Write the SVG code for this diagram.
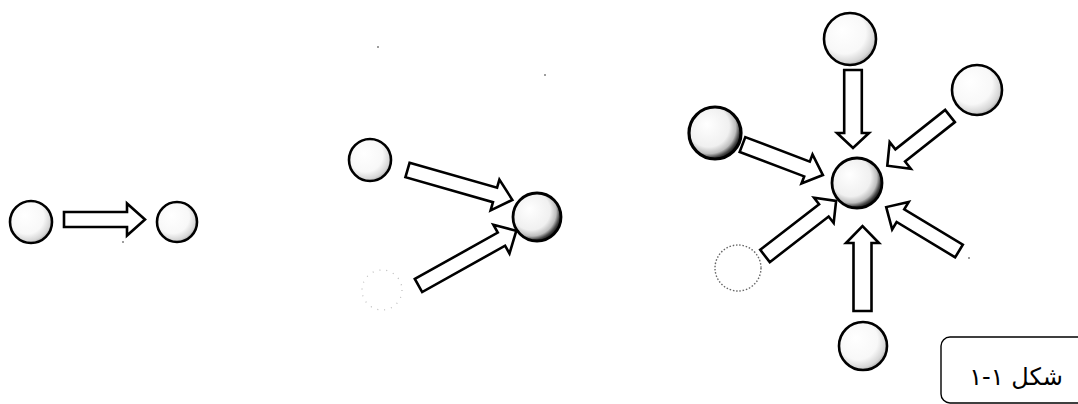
<svg xmlns="http://www.w3.org/2000/svg" width="1078" height="404" viewBox="0 0 1078 404">
  <defs>
    <!-- plain particle: light sphere with soft grey edge toward lower right -->
    <radialGradient id="ball" cx="0.42" cy="0.4" r="0.62" fx="0.35" fy="0.33">
      <stop offset="0" stop-color="#ffffff"/>
      <stop offset="0.66" stop-color="#f8f8f8"/>
      <stop offset="0.9" stop-color="#d6d6d6"/>
      <stop offset="1" stop-color="#a8a8a8"/>
    </radialGradient>
    <!-- target particle: dark shadow crescent on the lower right -->
    <radialGradient id="ballDark" cx="0.4" cy="0.4" r="0.64" fx="0.34" fy="0.33">
      <stop offset="0" stop-color="#ffffff"/>
      <stop offset="0.62" stop-color="#f0f0f0"/>
      <stop offset="0.8" stop-color="#bdbdbd"/>
      <stop offset="0.9" stop-color="#4a4a4a"/>
      <stop offset="1" stop-color="#000000"/>
    </radialGradient>
  </defs>
  <style>
    .p { fill: url(#ball); stroke: #000; stroke-width: 2.6; }
    .t { fill: url(#ballDark); stroke: #000; stroke-width: 2.8; }
    .faint { fill: #fff; stroke: #666; stroke-width: 1.4; stroke-dasharray: 1.5 1.8; }
    .ghost { fill: #fff; stroke: #bbb; stroke-width: 1.2; stroke-dasharray: 1 6; }
    .arrow { fill: #fff; stroke: #000; stroke-width: 2.6; stroke-linejoin: miter; }
    .speck { fill: #222; }
    .frame { fill: none; stroke: #000; stroke-width: 1.4; }
    .caption { font-family: "DejaVu Sans", "Noto Sans", sans-serif; font-size: 24px; fill: #000; }
  </style>

  <rect width="1078" height="404" fill="#fff"/>

  <!-- single collision: one particle moving toward another -->
  <g id="pair-a"><circle class="p" cx="31" cy="222" r="21"/></g>
  <g id="pair-b"><circle class="p" cx="177" cy="222" r="20"/></g>

  <!-- two particles converging on one -->
  <g id="mid-upper"><circle class="p" cx="370" cy="160" r="21"/></g>
  <g id="mid-lower"><circle class="ghost" cx="382" cy="290" r="20"/></g>
  <g id="mid-target"><circle class="t" cx="537" cy="217" r="24"/></g>

  <!-- six particles converging on one -->
  <g id="star-top"><circle class="p" cx="850" cy="39" r="26"/></g>
  <g id="star-top-right"><circle class="p" cx="977" cy="90" r="25"/></g>
  <g id="star-left"><circle class="t" cx="715" cy="133" r="26" style="stroke-width:3.2"/></g>
  <g id="star-target"><circle class="t" cx="857" cy="183" r="25"/></g>
  <g id="star-bottom-left"><circle class="faint" cx="738" cy="268" r="23"/></g>
  <g id="star-bottom"><circle class="p" cx="863" cy="346" r="24"/></g>

  <!-- block arrows: drawn tail-at-origin pointing along +x, then placed -->
  <g id="connectors">
    <path class="arrow" transform="translate(64,219.5)" d="M0,-7.5 H63 V-16 L81,0 L63,16 V7.5 H0 Z"/>

    <path class="arrow" transform="translate(407.5,170) rotate(15.9)" d="M0,-7.5 H91 V-16 L109,0 L91,16 V7.5 H0 Z"/>
    <path class="arrow" transform="translate(418.5,285.5) rotate(-29.2)" d="M0,-7.5 H95 V-16.5 L112,0 L95,16.5 V7.5 H0 Z"/>

    <path class="arrow" transform="translate(853,70) rotate(90)" d="M0,-8.8 H63 V-16 L78,0 L63,16 V8.8 H0 Z"/>
    <path class="arrow" transform="translate(950,116) rotate(141.6)" d="M0,-7.8 H63.5 V-17 L80,0 L63.5,17 V7.8 H0 Z"/>
    <path class="arrow" transform="translate(742.5,144.5) rotate(20.8)" d="M0,-7.9 H69 V-15.5 L86,0 L69,15.5 V7.9 H0 Z"/>
    <path class="arrow" transform="translate(765,256) rotate(-37.8)" d="M0,-7.8 H74.5 V-16 L90,0 L74.5,16 V7.8 H0 Z"/>
    <path class="arrow" transform="translate(862.5,311) rotate(-90)" d="M0,-9 H68 V-16.5 L85,0 L68,16.5 V9 H0 Z"/>
    <path class="arrow" transform="translate(959,251) rotate(-148.9)" d="M0,-7.4 H68.4 V-16 L85,0 L68.4,16 V7.4 H0 Z"/>
  </g>

  <!-- stray printing dots -->
  <g id="specks">
    <circle class="speck" cx="378" cy="47" r="0.8"/>
    <circle class="speck" cx="545" cy="75" r="0.8"/>
    <circle class="speck" cx="123" cy="242" r="0.8"/>
    <circle class="speck" cx="969" cy="258" r="0.8"/>
  </g>

  <!-- figure caption -->
  <g id="caption">
    <rect class="frame" x="941" y="337" width="160" height="66" rx="9"/>
    <text class="caption" x="1016" y="385" text-anchor="middle" direction="rtl">شکل ۱-۱</text>
  </g>
</svg>
